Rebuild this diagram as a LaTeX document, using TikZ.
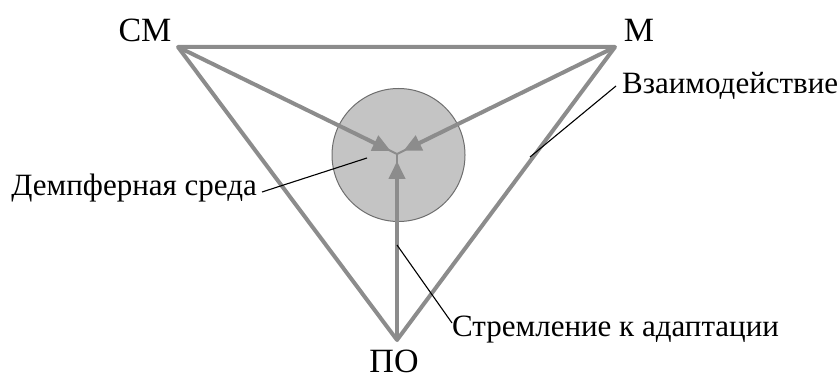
\documentclass[tikz,border=0pt]{standalone}
\usepackage{fontspec}
\setmainfont{Liberation Serif}
\usetikzlibrary{arrows.meta,calc}
\definecolor{edgegray}{HTML}{8C8C8C}
\definecolor{fillgray}{HTML}{C4C4C4}
\definecolor{rimgray}{HTML}{6E6E6E}
\tikzset{
  edge/.style={draw=edgegray, line width=4pt, line join=round, line cap=round},
  arr/.style={draw=edgegray, line width=4pt, -{Triangle[length=18pt,width=16pt]}, shorten >=7pt},
  thinlink/.style={draw=edgegray, line width=2pt},
  leader/.style={draw=black, line width=1.1pt},
  vlabel/.style={font=\fontsize{34}{38}\selectfont, inner sep=0pt},
  tlabel/.style={font=\fontsize{31}{34}\selectfont, inner sep=0pt},
}
\begin{document}
\begin{tikzpicture}[x=1pt,y=-1pt]
\useasboundingbox (0,0) rectangle (840,379);
\coordinate (CM) at (178,47);
\coordinate (M) at (615,47);
\coordinate (PO) at (397,340);
\coordinate (C) at (397,154);
\node[circle, draw=rimgray, line width=1pt, fill=fillgray, minimum size=133pt, inner sep=0pt] (disc) at (398.5,155) {};
\draw[edge] (CM) -- (M) -- (PO) -- cycle;
\draw[thinlink] (C) -- ($(C)!10pt!(CM)$);
\draw[thinlink] (C) -- ($(C)!10pt!(M)$);
\draw[thinlink] (C) -- ($(C)!10pt!(PO)$);
\draw[arr] (CM) -- (C);
\draw[arr] (M) -- (C);
\draw[arr] (PO) -- (C);
\node[vlabel] (lCM) at (145,30) {СМ};
\node[vlabel] (lM) at (639,30) {М};
\node[vlabel] (lPO) at (394,361) {ПО};
\node[tlabel, anchor=west] (lvz) at (622,86) {Взаимодействие};
\node[tlabel, anchor=east] (ldem) at (257,188) {Демпферная среда};
\node[tlabel, anchor=west] (lstr) at (452,330) {Стремление к адаптации};
\coordinate (pvz) at (530,157);
\coordinate (pdem) at (367,158);
\coordinate (pstr) at (397,245);
\draw[leader] (lvz.west) ++(-6,0) -- (pvz);
\draw[leader] (ldem.east) ++(5,4) -- (pdem);
\draw[leader] (lstr.west) ++(0,-7) -- (pstr);
\end{tikzpicture}
\end{document}
